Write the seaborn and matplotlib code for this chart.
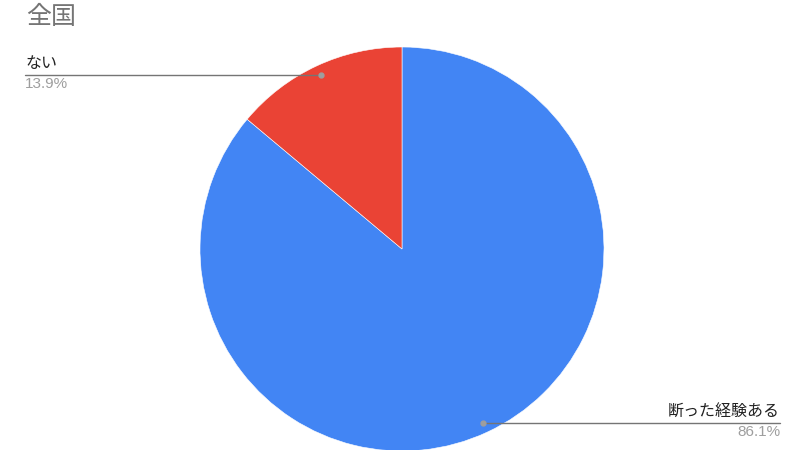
import numpy as np
import matplotlib
matplotlib.use("Agg")
import matplotlib.pyplot as plt
import seaborn as sns

# data
labels = ["断った経験ある", "ない"]
values = [86.1, 13.9]
colors = ["#4285F4", "#EA4335"]

sns.set_theme(style="white")
plt.rcParams['font.family'] = ['Noto Sans CJK JP', 'DejaVu Sans']

fig = plt.figure(figsize=(8, 4.5), dpi=100)
ax = fig.add_axes([0, 0, 1, 1])

cx, cy, r = 402, 249, 202
# y axis is inverted, so counterclock=True runs clockwise on screen
wedges, _ = ax.pie(values, colors=colors, startangle=-90, counterclock=True,
                   center=(cx, cy), radius=r, frame=True,
                   wedgeprops=dict(edgecolor="white", linewidth=0.4))
ax.set_xlim(0, 800)
ax.set_ylim(450, 0)
ax.set_aspect('equal')
ax.axis('off')

fig.text(26 / 800, 1 - 17 / 450, "全国", fontsize=18, color="#757575",
         ha="left", va="center")

# label anchors: left side for small slice, right side for big slice
anchors = {0: (780, "right"), 1: (25, "left")}
for i, w in enumerate(wedges):
    mid = np.deg2rad((w.theta1 + w.theta2) / 2)
    px = cx + 0.95 * r * np.cos(mid)
    py = cy + 0.95 * r * np.sin(mid)
    x_end, ha = anchors[i]
    ax.plot([px, x_end], [py, py], color="#757575", lw=1.0, zorder=3)
    ax.plot(px, py, "o", color="#9e9e9e", ms=3.5, zorder=4)
    ax.text(x_end, py - 3, labels[i], fontsize=11.5, color="#222222",
            ha=ha, va="bottom")
    ax.text(x_end, py + 2, f"{values[i]:.1f}%", fontsize=11, color="#9e9e9e",
            ha=ha, va="top", family=["Liberation Sans", "DejaVu Sans"])

fig.savefig("out.png", dpi=100)
